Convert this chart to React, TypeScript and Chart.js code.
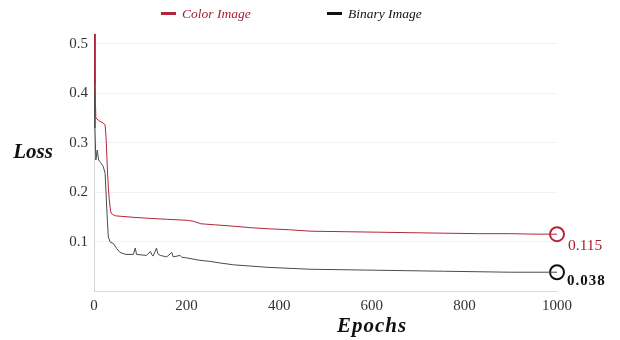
import React, { useEffect, useRef } from "react";
import { Chart, registerables } from "chart.js";

Chart.register(...registerables);

const xTicks = [0, 200, 400, 600, 800, 1000];
const yTicks = [0.1, 0.2, 0.3, 0.4, 0.5];

const colorLabel = "Color Image";
const binaryLabel = "Binary Image";

const colorEpochs = [0, 2, 4, 10, 15, 20, 24, 26, 29, 31, 33, 35, 37, 42, 47, 60, 86, 120, 159, 202, 215, 231, 260, 303, 340, 374, 420, 468, 540, 612, 680, 755, 830, 899, 950, 1000];
const colorLoss = [0.52, 0.42, 0.35, 0.345, 0.342, 0.34, 0.336, 0.312, 0.245, 0.21, 0.184, 0.168, 0.157, 0.154, 0.152, 0.151, 0.149, 0.147, 0.145, 0.143, 0.141, 0.136, 0.134, 0.131, 0.128, 0.126, 0.124, 0.121, 0.12, 0.119, 0.118, 0.117, 0.116, 0.116, 0.115, 0.115];

const binaryEpochs = [0, 2, 4, 7, 10, 14, 20, 24, 27, 29, 31, 35, 42, 49, 56, 69, 85, 89, 92, 113, 122, 125, 128, 135, 138, 143, 157, 168, 171, 186, 190, 200, 229, 250, 270, 301, 373, 467, 611, 755, 898, 1000];
const binaryLoss = [0.52, 0.33, 0.265, 0.285, 0.265, 0.26, 0.252, 0.238, 0.178, 0.14, 0.109, 0.099, 0.096, 0.086, 0.078, 0.074, 0.074, 0.087, 0.074, 0.072, 0.08, 0.073, 0.071, 0.087, 0.075, 0.072, 0.069, 0.078, 0.069, 0.072, 0.068, 0.067, 0.062, 0.06, 0.057, 0.053, 0.048, 0.044, 0.042, 0.04, 0.038, 0.038];

const colorFinalLabel = "0.115";
const binaryFinalLabel = "0.038";

const RED = "#b3253a";
const RED_TEXT = "#a51c30";
const GRAY = "#4a4a4a";
const BLACK = "#111111";
const FONT = "'Liberation Serif', serif";

const toPts = (xs: number[], ys: number[]) => xs.map((x, i) => ({ x, y: ys[i] }));

const overlayPlugin = {
  id: "overlay",
  afterDraw(chart: any) {
    const ctx = chart.ctx as any;
    const xs = chart.scales.x;
    const ys = chart.scales.y;
    ctx.save();
    const items = [
      { label: chart.data.datasets[0].label, color: RED, text: RED_TEXT, x: 161 },
      { label: chart.data.datasets[1].label, color: BLACK, text: BLACK, x: 327 },
    ];
    ctx.font = `italic 13.5px ${FONT}`;
    ctx.textBaseline = "middle";
    ctx.textAlign = "left";
    items.forEach((it) => {
      ctx.fillStyle = it.color;
      ctx.fillRect(it.x, 12, 15, 3);
      ctx.fillStyle = it.text;
      ctx.fillText(it.label, it.x + 21, 14);
    });
    ctx.fillStyle = BLACK;
    ctx.font = `bold italic 21px ${FONT}`;
    ctx.textAlign = "center";
    ctx.fillText("Loss", 33, 153);
    ctx.letterSpacing = "1px";
    ctx.fillText("Epochs", 372, 327);
    const ex = xs.getPixelForValue(colorEpochs[colorEpochs.length - 1]);
    ctx.textAlign = "left";
    ctx.letterSpacing = "0px";
    ctx.font = `15.5px ${FONT}`;
    ctx.fillStyle = RED_TEXT;
    ctx.fillText(colorFinalLabel, ex + 11, ys.getPixelForValue(colorLoss[colorLoss.length - 1]) + 12);
    ctx.font = `bold 15px ${FONT}`;
    ctx.letterSpacing = "1px";
    ctx.fillStyle = BLACK;
    ctx.fillText(binaryFinalLabel, ex + 10, ys.getPixelForValue(binaryLoss[binaryLoss.length - 1]) + 9);
    ctx.restore();
  },
};

export default function App() {
  const ref = useRef<HTMLCanvasElement | null>(null);
  useEffect(() => {
    if (!ref.current) return;
    const chart = new Chart(ref.current, {
      type: "line",
      data: {
        datasets: [
          {
            label: colorLabel,
            data: toPts(colorEpochs, colorLoss),
            borderColor: RED,
            borderWidth: 1,
            pointRadius: 0,
            tension: 0,
          },
          {
            label: binaryLabel,
            data: toPts(binaryEpochs, binaryLoss),
            borderColor: GRAY,
            borderWidth: 1,
            pointRadius: 0,
            tension: 0,
          },
          {
            label: "end-color",
            data: [{ x: colorEpochs[colorEpochs.length - 1], y: colorLoss[colorLoss.length - 1] }],
            showLine: false,
            clip: false,
            pointRadius: 7,
            pointBorderWidth: 2,
            pointBorderColor: RED,
            pointBackgroundColor: "rgba(0,0,0,0)",
          },
          {
            label: "end-binary",
            data: [{ x: binaryEpochs[binaryEpochs.length - 1], y: binaryLoss[binaryLoss.length - 1] }],
            showLine: false,
            clip: false,
            pointRadius: 7,
            pointBorderWidth: 2,
            pointBorderColor: BLACK,
            pointBackgroundColor: "rgba(0,0,0,0)",
          },
        ],
      },
      options: {
        animation: false,
        responsive: true,
        maintainAspectRatio: false,
        layout: { padding: { left: 0, right: 63, top: 33, bottom: 0 } },
        plugins: { legend: { display: false }, tooltip: { enabled: false } },
        scales: {
          x: {
            type: "linear",
            min: 0,
            max: 1000,
            afterFit: (s: any) => { s.height = 49; },
            afterBuildTicks: (s: any) => { s.ticks = xTicks.map((v) => ({ value: v })); },
            grid: { display: true, color: "rgba(0,0,0,0)", drawTicks: false },
            border: { display: true, color: "#dcdcdc", width: 1 },
            ticks: {
              padding: 6,
              color: "#333",
              font: { family: FONT, size: 15 },
              maxRotation: 0,
              callback: (v: any) => String(v),
            },
          },
          y: {
            type: "linear",
            min: 0,
            max: 0.522,
            afterFit: (s: any) => { s.width = 94; },
            afterBuildTicks: (s: any) => { s.ticks = yTicks.map((v) => ({ value: v })); },
            grid: { color: "#f2f2f2", drawTicks: false },
            border: { display: true, color: "#d4d4d4", width: 1 },
            ticks: {
              padding: 6,
              color: "#333",
              font: { family: FONT, size: 15 },
              callback: (v: any) => Number(v).toFixed(1),
            },
          },
        },
      },
      plugins: [overlayPlugin],
    });
    return () => chart.destroy();
  }, []);
  return (
    <div style={{ position: "absolute", left: 0, top: 0, width: 620, height: 340 }}>
      <canvas ref={ref} />
    </div>
  );
}
